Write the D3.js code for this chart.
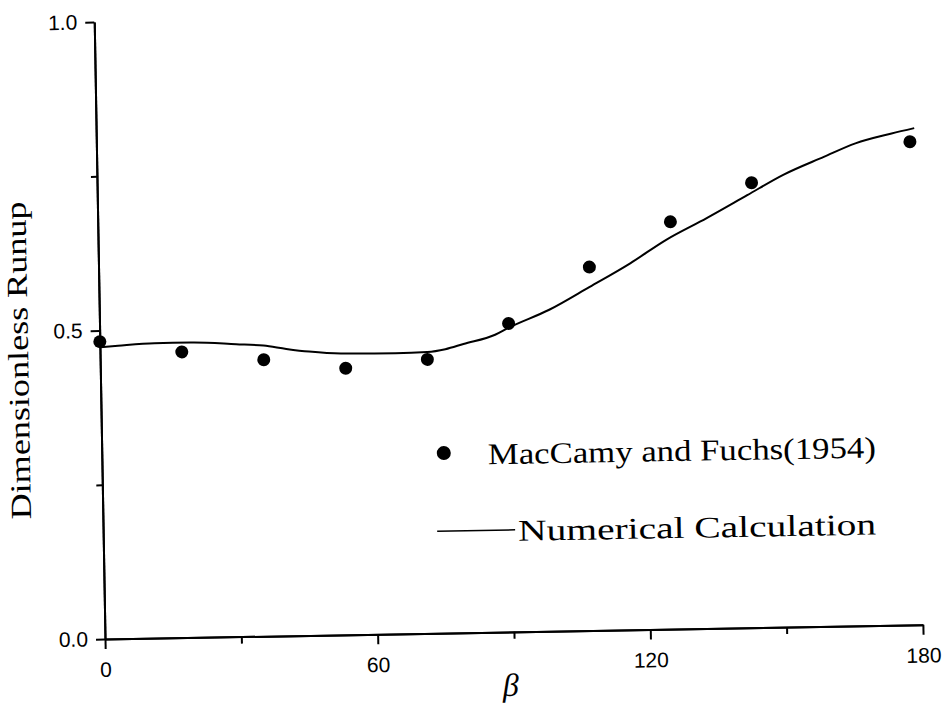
<!DOCTYPE html>
<html>
<head>
<meta charset="utf-8">
<script src="https://cdn.jsdelivr.net/npm/d3@7"></script>
<style>
  body { margin: 0; background: #fff; }
  .tick text { font-family: "Liberation Sans", Arial, sans-serif; font-size: 21px; fill: #000; }
  .domain, .tick line { stroke: #000; stroke-width: 2; }
</style>
</head>
<body>
<div id="chart"></div>
<script>
// data
var pointX = [0, 18, 36, 54, 72, 90, 108, 126, 144, 179];
var pointY = [0.482, 0.463, 0.448, 0.432, 0.444, 0.500, 0.589, 0.660, 0.721, 0.783];

var curveX = [0, 4, 12, 20, 30, 36, 41, 46, 53, 65, 72, 76, 80, 87, 90, 99, 108, 117, 125, 134, 143, 151, 160, 167, 175, 180];
var curveY = [0.473, 0.475, 0.478, 0.478, 0.474, 0.471, 0.465, 0.460, 0.456, 0.455, 0.456, 0.460, 0.468, 0.482, 0.493, 0.521, 0.557, 0.594, 0.631, 0.665, 0.701, 0.733, 0.761, 0.782, 0.797, 0.805];

var xMajor = [0, 60, 120, 180];
var xMinor = [30, 90, 150];
var yMajor = [0.0, 0.5, 1.0];
var yMinor = [0.25, 0.75];

var legendLabels = ["MacCamy and Fuchs(1954)", "Numerical Calculation"];

var svgWidth = 946;
var svgHeight = 709;

var margin = { top: 22, right: 23, bottom: 70, left: 105 };
var width = svgWidth - margin.left - margin.right;
var height = svgHeight - margin.top - margin.bottom;

var svg = d3.select("#chart")
  .append("svg")
  .attr("width", svgWidth)
  .attr("height", svgHeight);

// the scan is tilted by about one degree
var chartGroup = svg.append("g")
  .attr("transform", `rotate(-1, ${margin.left}, ${margin.top + height}) translate(${margin.left}, ${margin.top})`);

var xScale = d3.scaleLinear().domain([0, 180]).range([0, width]);
var yScale = d3.scaleLinear().domain([0, 1]).range([height, 0]);

// minor ticks first, then major axes on top
chartGroup.append("g")
  .attr("transform", `translate(0, ${height})`)
  .call(d3.axisBottom(xScale).tickValues(xMinor).tickSize(7).tickSizeOuter(0).tickFormat(""));

chartGroup.append("g")
  .call(d3.axisLeft(yScale).tickValues(yMinor).tickSize(6).tickSizeOuter(0).tickFormat(""));

chartGroup.append("g")
  .attr("transform", `translate(0, ${height})`)
  .call(d3.axisBottom(xScale).tickValues(xMajor).tickSize(10).tickSizeOuter(0).tickPadding(13).tickFormat(d3.format("d")));

chartGroup.append("g")
  .call(d3.axisLeft(yScale).tickValues(yMajor).tickSize(9).tickSizeOuter(0).tickPadding(8).tickFormat(d3.format(".1f")));

// numerical curve
var curveData = curveX.map((x, i) => ({ x: x, y: curveY[i] }));
var line = d3.line()
  .x(d => xScale(d.x))
  .y(d => yScale(d.y))
  .curve(d3.curveMonotoneX);

chartGroup.append("path")
  .datum(curveData)
  .attr("fill", "none")
  .attr("stroke", "#000")
  .attr("stroke-width", 2)
  .attr("d", line);

// MacCamy and Fuchs points
var pointData = pointX.map((x, i) => ({ x: x, y: pointY[i] }));
chartGroup.selectAll("circle.pt")
  .data(pointData)
  .enter()
  .append("circle")
  .attr("class", "pt")
  .attr("cx", d => xScale(d.x))
  .attr("cy", d => yScale(d.y))
  .attr("r", 6.5)
  .attr("fill", "#000");

// axis titles
chartGroup.append("text")
  .attr("transform", `translate(${33 - margin.left}, ${359 - margin.top}) rotate(-90)`)
  .attr("text-anchor", "middle")
  .attr("font-family", "'Liberation Serif', 'Times New Roman', serif")
  .attr("font-size", 29)
  .attr("textLength", 318)
  .attr("lengthAdjust", "spacingAndGlyphs")
  .text("Dimensionless Runup");

chartGroup.append("text")
  .attr("x", 510 - margin.left)
  .attr("y", 703 - margin.top)
  .attr("text-anchor", "middle")
  .attr("font-family", "'Liberation Serif', 'Times New Roman', serif")
  .attr("font-style", "italic")
  .attr("font-size", 32)
  .text("β");

// legend
var legend = chartGroup.append("g")
  .attr("transform", `translate(${-margin.left}, ${-margin.top})`)
  .attr("font-family", "'Liberation Serif', 'Times New Roman', serif")
  .attr("font-size", 30);

legend.append("circle")
  .attr("cx", 447)
  .attr("cy", 459)
  .attr("r", 7)
  .attr("fill", "#000");

legend.append("text")
  .attr("x", 491)
  .attr("y", 471)
  .attr("textLength", 388)
  .attr("lengthAdjust", "spacingAndGlyphs")
  .text(legendLabels[0]);

legend.append("line")
  .attr("x1", 439)
  .attr("x2", 517)
  .attr("y1", 537)
  .attr("y2", 537)
  .attr("stroke", "#000")
  .attr("stroke-width", 1.5);

legend.append("text")
  .attr("x", 520)
  .attr("y", 548)
  .attr("textLength", 358)
  .attr("lengthAdjust", "spacingAndGlyphs")
  .text(legendLabels[1]);
</script>
</body>
</html>
